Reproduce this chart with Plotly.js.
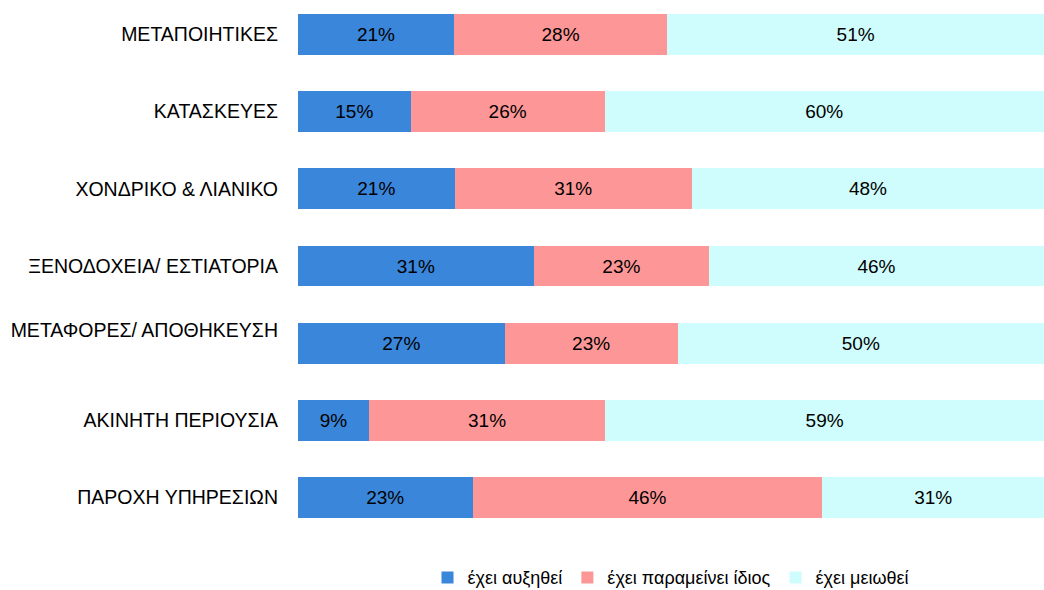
<!DOCTYPE html>
<html>
<head>
<meta charset="utf-8">
<script src="https://cdn.plot.ly/plotly-3.0.1.min.js"></script>
<style>html,body{margin:0;padding:0;background:#fff;}#chart{width:1044px;height:590px;}</style>
</head>
<body>
<div id="chart"></div>
<script>
const categories = [
  "ΜΕΤΑΠΟΙΗΤΙΚΕΣ",
  "ΚΑΤΑΣΚΕΥΕΣ",
  "ΧΟΝΔΡΙΚΟ & ΛΙΑΝΙΚΟ",
  "ΞΕΝΟΔΟΧΕΙΑ/ ΕΣΤΙΑΤΟΡΙΑ",
  "ΜΕΤΑΦΟΡΕΣ/ ΑΠΟΘΗΚΕΥΣΗ",
  "ΑΚΙΝΗΤΗ ΠΕΡΙΟΥΣΙΑ",
  "ΠΑΡΟΧΗ ΥΠΗΡΕΣΙΩΝ"
];
const seriesNames = ["έχει αυξηθεί", "έχει παραμείνει ίδιος", "έχει μειωθεί"];

// bar shares (percent of row)
const increased = [20.9, 15.1, 21.0, 31.6, 27.7, 9.5, 23.4];
const unchanged = [28.6, 26.0, 31.8, 23.5, 23.2, 31.7, 46.9];
const decreased = [50.5, 58.9, 47.2, 44.9, 49.1, 58.8, 29.7];

// percentage labels printed on the bars
const increasedLabels = [21, 15, 21, 31, 27, 9, 23];
const unchangedLabels = [28, 26, 31, 23, 23, 31, 46];
const decreasedLabels = [51, 60, 48, 46, 50, 59, 31];

const colors = ["#3a86da", "#fd9797", "#cffcfc"];
const seriesValues = [increased, unchanged, decreased];
const seriesLabels = [increasedLabels, unchangedLabels, decreasedLabels];

const FONT = "Liberation Sans, Arial, sans-serif";

const traces = seriesValues.map((vals, i) => ({
  type: "bar",
  orientation: "h",
  name: seriesNames[i],
  y: categories,
  x: vals,
  width: 0.53,
  marker: {color: colors[i], line: {width: 0}},
  text: seriesLabels[i].map(v => v + "%"),
  textposition: "inside",
  insidetextanchor: "middle",
  constraintext: "none",
  textfont: {family: FONT, size: 19, color: "#000"},
  hoverinfo: "skip"
}));

const tickText = categories.map(c => c === "ΜΕΤΑΦΟΡΕΣ/ ΑΠΟΘΗΚΕΥΣΗ" ? c + "<br> " : c);

const layout = {
  width: 1044,
  height: 590,
  margin: {l: 298, r: 0, t: 0, b: 60, autoexpand: false},
  barmode: "stack",
  paper_bgcolor: "#fff",
  plot_bgcolor: "#fff",
  font: {family: FONT, size: 19, color: "#000"},
  xaxis: {range: [0, 100], visible: false, fixedrange: true},
  yaxis: {
    type: "category",
    range: [6.421, -0.447],
    tickvals: categories,
    ticktext: tickText,
    showgrid: false,
    zeroline: false,
    showline: false,
    ticks: "",
    ticklabelstandoff: 19,
    tickfont: {family: FONT, size: 19.5, color: "#000"}
  },
  showlegend: true,
  legend: {
    orientation: "h",
    x: 0.5,
    xanchor: "center",
    y: -0.09,
    yanchor: "middle",
    traceorder: "normal",
    font: {family: FONT, size: 18, color: "#000"},
    itemwidth: 30
  }
};

Plotly.newPlot("chart", traces, layout, {displayModeBar: false, staticPlot: true});
</script>
</body>
</html>
